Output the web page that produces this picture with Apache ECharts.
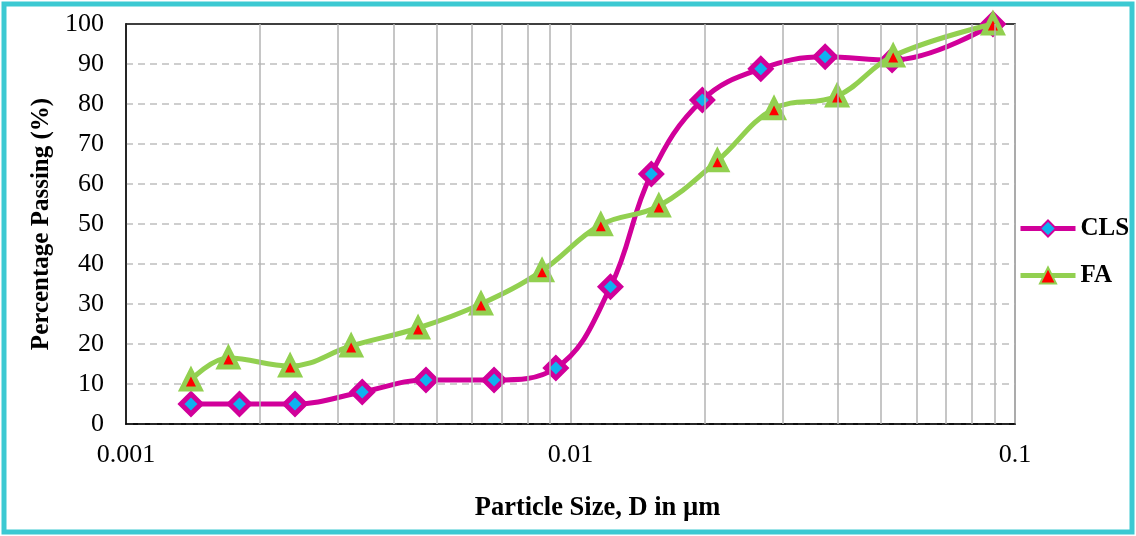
<!DOCTYPE html>
<html>
<head>
<meta charset="utf-8">
<script src="https://cdn.jsdelivr.net/npm/echarts@6/dist/echarts.min.js"></script>
<style>
  html, body { margin: 0; padding: 0; background: #fff; }
  #chart { width: 1136px; height: 536px; }
</style>
</head>
<body>
<div id="chart"></div>
<script>
const clsSize = [0.0014, 0.0018, 0.0024, 0.0034, 0.00473, 0.00673, 0.00927, 0.0123, 0.0152, 0.0198, 0.0268, 0.0374, 0.0529, 0.0892];
const clsPassing = [5, 5, 5, 8, 11, 11, 14, 34.3, 62.5, 81, 88.8, 91.8, 91, 100];
const faSize = [0.0014, 0.0017, 0.00234, 0.00321, 0.00454, 0.00629, 0.00863, 0.0117, 0.0158, 0.0214, 0.0287, 0.0398, 0.0532, 0.0892];
const faPassing = [11, 16.5, 14.5, 19.5, 24, 30, 38.3, 49.8, 54.5, 65.8, 78.8, 82, 92, 100];
const minorGrid = [0.002, 0.003, 0.004, 0.005, 0.006, 0.007, 0.008, 0.009,
                   0.02, 0.03, 0.04, 0.05, 0.06, 0.07, 0.08, 0.09];

const serif = '"Liberation Serif", "Times New Roman", serif';
const chart = echarts.init(document.getElementById('chart'));

const option = {
  animation: false,
  backgroundColor: '#fff',
  graphic: [{
    type: 'rect',
    shape: { x: 4, y: 4, width: 1128, height: 528 },
    style: { fill: 'none', stroke: '#3cc9d2', lineWidth: 5 },
    silent: true
  }],
  grid: {
    left: 126, right: 121, top: 24, bottom: 112,
    show: true, borderColor: '#000', borderWidth: 1.5
  },
  legend: {
    data: ['CLS', 'FA'],
    orient: 'vertical',
    left: 1018, top: 216,
    padding: 0,
    itemWidth: 55, itemHeight: 20, itemGap: 22,
    lineStyle: { width: 5 },
    textStyle: { fontFamily: serif, fontSize: 25, fontWeight: 'bold', color: '#000' }
  },
  xAxis: {
    type: 'log',
    logBase: 10,
    min: 0.001, max: 0.1,
    name: 'Particle Size, D in µm',
    nameLocation: 'middle',
    nameGap: 71,
    nameTextStyle: { fontFamily: serif, fontSize: 26.5, fontWeight: 'bold', color: '#000', padding: [0, 0, 0, 54] },
    axisLine: { lineStyle: { color: '#000', width: 1.5 } },
    axisTick: { show: false },
    axisLabel: {
      margin: 18,
      fontFamily: serif, fontSize: 26, color: '#000',
      formatter: v => String(parseFloat(Number(v).toPrecision(3)))
    },
    splitLine: { show: true, lineStyle: { color: '#b3b3b3', width: 1.5 } }
  },
  yAxis: {
    type: 'value',
    min: 0, max: 100, interval: 10,
    name: 'Percentage Passing (%)',
    nameLocation: 'middle',
    nameGap: 70,
    nameTextStyle: { fontFamily: serif, fontSize: 25, fontWeight: 'bold', color: '#000' },
    axisLine: { show: true, lineStyle: { color: '#000', width: 1.5 } },
    axisTick: { show: false },
    axisLabel: { margin: 22, fontFamily: serif, fontSize: 26, color: '#000' },
    splitLine: { show: true, showMaxLine: false, lineStyle: { color: '#bfbfbf', width: 1.5, type: [7, 5] } }
  },
  series: [
    {
      name: 'grid',
      type: 'line',
      data: [],
      z: 1,
      silent: true,
      markLine: {
        silent: true,
        symbol: ['none', 'none'],
        label: { show: false },
        lineStyle: { type: 'solid', color: '#b3b3b3', width: 1.5 },
        data: minorGrid.map(v => [{ coord: [v, 0] }, { coord: [v, 100] }])
      }
    },
    {
      name: 'CLS',
      type: 'line',
      z: 3,
      smooth: 0.4,
      data: clsSize.map((s, i) => [s, clsPassing[i]]),
      lineStyle: { color: '#d1009a', width: 5 },
      symbol: 'diamond',
      symbolSize: 20,
      itemStyle: { color: '#0fb1f0', borderColor: '#d1009a', borderWidth: 5 }
    },
    {
      name: 'FA',
      type: 'line',
      z: 4,
      smooth: 0.4,
      data: faSize.map((s, i) => [s, faPassing[i]]),
      lineStyle: { color: '#92d050', width: 5 },
      symbol: 'triangle',
      symbolSize: 18,
      itemStyle: { color: '#ff0000', borderColor: '#92d050', borderWidth: 5 }
    }
  ]
};

chart.setOption(option);
</script>
</body>
</html>
